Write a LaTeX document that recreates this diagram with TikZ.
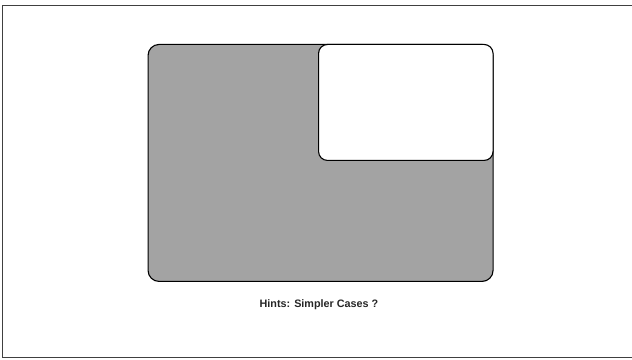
\documentclass[tikz,border=0pt]{standalone}
\usepackage{fontspec}
\setmainfont{Liberation Sans}
\begin{document}
\begin{tikzpicture}[x=1pt,y=1pt,
  frameline/.style={draw=black!75,line width=0.8pt},
  shadedbox/.style={draw=black,line width=1.1pt,fill=black!36,rounded corners=11pt},
  whitebox/.style={draw=black,line width=1.1pt,fill=white,rounded corners=9pt},
  caption/.style={font=\bfseries\fontsize{10.8}{12}\selectfont,text=black!85}]
\useasboundingbox (0,0) rectangle (632,359);
% outer frame (left, top, bottom)
\coordinate (fbl) at (2,2);
\coordinate (ftl) at (2,354);
\coordinate (ftr) at (632,354);
\coordinate (fbr) at (632,2);
\draw[frameline] (ftr) -- (ftl) -- (fbl) -- (fbr);
% big shaded box
\node[shadedbox,minimum width=345pt,minimum height=237pt,anchor=south west,inner sep=0pt] (big) at (147.5,77) {};
% white box at top right
\node[whitebox,minimum width=174.5pt,minimum height=116pt,anchor=north east,inner sep=0pt] (small) at (big.north east) {};
% caption
\node[caption] (cap) at (319,54) {Hints: Simpler Cases ?};
\end{tikzpicture}
\end{document}
